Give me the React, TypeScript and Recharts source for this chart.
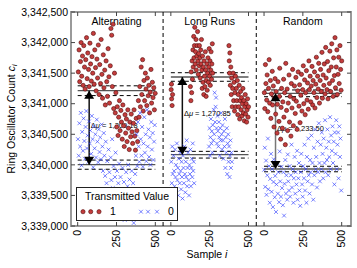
import React from "react";
import {
  ScatterChart,
  Scatter,
  XAxis,
  YAxis,
  ReferenceLine,
  ReferenceArea,
} from "recharts";

const FONT = '"Liberation Sans", Arial, Helvetica, sans-serif';

// plot box edges in pixels (used only for the mirrored tick marks)
const PLOT_TOP = 12;
const PLOT_RIGHT = 351;

const panelNames = ["Alternating", "Long Runs", "Random"];
const panelOffsets = [0, 600, 1200];
const panelDividers = [550, 1150];
const xTicks = [0, 250, 500, 600, 850, 1100, 1200, 1450, 1700];
const yTicks = [3339000, 3339500, 3340000, 3340500, 3341000, 3341500, 3342000, 3342500];

// mean counts per panel and their dashed confidence bands
const meanOne = [3341213, 3341437, 3341170];
const meanZero = [3340003, 3340166, 3339932];
const bandOne = [80, 70, 55];
const bandZero = [75, 55, 45];
const deltaLabels = ["1,209.18", "1,270.85", "1,233.50"];
const arrowSample = 74;

// [sample i, count c_i]
const altOne: [number, number][] = [
  [4, 3341520], [9, 3341880], [13, 3341360], [18, 3341690], [22, 3342000], [26, 3341450], [31, 3341780], [35, 3341300],
  [39, 3341950], [44, 3341600], [48, 3341240], [52, 3341720], [57, 3342080], [61, 3341410], [65, 3341830], [70, 3341560],
  [74, 3341280], [79, 3341990], [83, 3341650], [88, 3341370], [92, 3341770], [97, 3341500], [101, 3342150], [106, 3341320],
  [110, 3341880], [115, 3341590], [119, 3341210], [124, 3341730], [128, 3341420], [133, 3341960], [138, 3341150], [142, 3341640],
  [147, 3341330], [151, 3342050], [156, 3341480], [160, 3341090], [165, 3341800], [169, 3341260], [174, 3341550], [178, 3340980],
  [183, 3341700], [187, 3341360], [192, 3341120], [196, 3341900], [201, 3341440], [205, 3341010], [210, 3341620], [214, 3342230],
  [219, 3342120], [223, 3341280], [228, 3342300], [232, 3340920], [237, 3341500], [242, 3340850], [246, 3341180], [251, 3340620],
  [255, 3340950], [260, 3340480], [264, 3340780], [269, 3341050], [273, 3340560], [278, 3340890], [282, 3340700], [287, 3340420],
  [291, 3340980], [296, 3340640], [300, 3340300], [305, 3340820], [309, 3340520], [314, 3340750], [318, 3340380], [323, 3340900],
  [327, 3340600], [332, 3340250], [336, 3340700], [341, 3340460], [345, 3340830], [350, 3340540], [354, 3340350], [359, 3340680],
  [363, 3340900], [368, 3340470], [372, 3340240], [377, 3340760], [381, 3340560], [386, 3340380], [391, 3341050], [395, 3340780],
  [400, 3341280], [404, 3340950], [409, 3341600], [413, 3341150], [418, 3341720], [422, 3340880], [427, 3341380], [431, 3341050],
  [436, 3341500], [440, 3341240], [445, 3340970], [449, 3341420], [454, 3341130], [458, 3341300], [463, 3340850], [467, 3341190],
  [472, 3341560], [476, 3341010], [481, 3341350], [485, 3341100], [490, 3341260], [494, 3340900], [499, 3341170],
];

const altZero: [number, number][] = [
  [2, 3340420], [7, 3340150], [11, 3340680], [16, 3340300], [20, 3340850], [25, 3339990], [29, 3340540], [34, 3340230],
  [38, 3340760], [43, 3340390], [47, 3340100], [51, 3340620], [56, 3340880], [60, 3340270], [64, 3340480], [69, 3340050],
  [73, 3340710], [78, 3340350], [82, 3340560], [87, 3340180], [91, 3340800], [96, 3340420], [100, 3339960], [105, 3340630],
  [109, 3340270], [114, 3340500], [118, 3340120], [123, 3340740], [127, 3340380], [132, 3340040], [136, 3340580], [141, 3340210],
  [145, 3340450], [150, 3340090], [154, 3340660], [159, 3340300], [163, 3339900], [168, 3340520], [172, 3340150], [177, 3339820],
  [181, 3340380], [186, 3339700], [190, 3340060], [195, 3339560], [199, 3340250], [204, 3339880], [208, 3339450], [213, 3340120],
  [217, 3339750], [222, 3340420], [226, 3339620], [231, 3339980], [235, 3339330], [240, 3339800], [244, 3340200], [249, 3339500],
  [253, 3339900], [258, 3339250], [262, 3339700], [267, 3340020], [271, 3339420], [276, 3339800], [280, 3339150], [285, 3339600],
  [289, 3339950], [294, 3339350], [298, 3339720], [303, 3339100], [307, 3339560], [312, 3339880], [316, 3339280], [321, 3339650],
  [325, 3340000], [330, 3339430], [334, 3339760], [339, 3339200], [343, 3339580], [348, 3339900], [352, 3339350], [357, 3339700],
  [361, 3339050], [366, 3339500], [370, 3339850], [375, 3340150], [379, 3340500], [384, 3339980], [388, 3340700], [393, 3340300],
  [397, 3340050], [402, 3340850], [406, 3340420], [411, 3340150], [415, 3340620], [420, 3339970], [424, 3340350], [429, 3340780],
  [433, 3340200], [438, 3340500], [442, 3340060], [447, 3340900], [451, 3340300], [456, 3340580], [460, 3340130], [465, 3340450],
  [469, 3340000], [474, 3340700], [478, 3340250], [483, 3340520], [487, 3340080], [492, 3340380], [496, 3340650],
];

const runOne: [number, number][] = [
  [2, 3341230], [5, 3341080], [8, 3340970], [11, 3341150], [4, 3341320],
  [126, 3341280], [129, 3341050], [131, 3341520], [134, 3341180], [137, 3341700], [139, 3341400], [142, 3341880], [144, 3341600],
  [147, 3342100], [149, 3341750], [152, 3341950], [154, 3342250], [157, 3341650], [159, 3341850], [162, 3342050], [164, 3341550],
  [167, 3341780], [169, 3341950], [172, 3342180], [174, 3341700], [177, 3341480], [179, 3341820], [182, 3341620], [184, 3341950],
  [187, 3341750], [189, 3341420], [192, 3341880], [194, 3341650], [197, 3342050], [199, 3341550], [202, 3341250], [204, 3341780],
  [207, 3341350], [209, 3341600], [212, 3341150], [214, 3341700], [217, 3341450], [219, 3341280], [222, 3341850], [224, 3341550],
  [227, 3341120], [229, 3341380], [232, 3341650], [234, 3341220], [237, 3341500], [239, 3341750], [242, 3341350], [244, 3341600],
  [247, 3341900], [249, 3341450], [252, 3341700], [254, 3341300], [257, 3341550], [259, 3341850], [262, 3341400], [264, 3341650],
  [267, 3341980], [269, 3341500],
  [374, 3341950], [376, 3341700], [378, 3341500], [380, 3341830], [383, 3341300], [386, 3341600], [389, 3341150], [392, 3341420],
  [395, 3340950], [398, 3341250], [401, 3341500], [404, 3341050], [407, 3341350], [410, 3340880], [413, 3341180], [416, 3341450],
  [419, 3340950], [422, 3341250], [425, 3341050], [428, 3341380], [431, 3340820], [434, 3341150], [437, 3340950], [440, 3341300],
  [443, 3340750], [446, 3341050], [449, 3341200], [452, 3340900], [455, 3341100], [458, 3340800], [461, 3341000], [464, 3341250],
  [467, 3340850], [470, 3341050], [473, 3340720], [476, 3340950], [479, 3341150], [482, 3340830], [485, 3341000], [488, 3340700],
  [491, 3340900], [494, 3341080], [497, 3340780], [500, 3340950],
];

const runZero: [number, number][] = [
  [3, 3340050], [6, 3339700], [9, 3340300], [12, 3339850], [15, 3339550], [18, 3340150], [21, 3339900], [24, 3339650],
  [27, 3340250], [30, 3339800], [33, 3340000], [36, 3339600], [39, 3340350], [42, 3339750], [45, 3339950], [48, 3339500],
  [51, 3340100], [54, 3339850], [57, 3339700], [60, 3340200], [63, 3339900], [66, 3339600], [69, 3340050], [72, 3339800],
  [75, 3339450], [78, 3340150], [81, 3339950], [84, 3339700], [87, 3340300], [90, 3339850], [93, 3339550], [96, 3340050],
  [99, 3339800], [102, 3340400], [105, 3339650], [108, 3339950], [111, 3340200], [114, 3339750], [117, 3339500], [120, 3340000],
  [123, 3339850], [126, 3340250], [129, 3339650], [132, 3339950], [135, 3340100], [138, 3339800], [141, 3340350], [144, 3339900],
  [147, 3340050], [150, 3339700],
  [246, 3340300], [249, 3340600], [252, 3340150], [255, 3340450], [258, 3340750], [261, 3340350], [264, 3340550], [267, 3340200],
  [270, 3340650], [273, 3340400], [276, 3340900], [279, 3340500], [282, 3341180], [285, 3340700], [288, 3340950], [291, 3341100],
  [294, 3340600], [297, 3340350], [300, 3340800], [303, 3340550], [306, 3340300], [309, 3340700], [312, 3340450], [315, 3340150],
  [318, 3340600], [321, 3340400], [324, 3340850], [327, 3340500], [330, 3340250], [333, 3340650], [336, 3340400], [339, 3340100],
  [342, 3340550], [345, 3340300], [348, 3340750], [351, 3339950], [354, 3340450], [357, 3340200], [360, 3340600], [363, 3339850],
  [366, 3340350], [369, 3340500], [372, 3340050], [375, 3340300], [378, 3339800], [381, 3340150], [384, 3340400], [387, 3339950],
  [390, 3340200], [393, 3340050],
];

const randOne: [number, number][] = [
  [2, 3341180], [5, 3340920], [9, 3341640], [12, 3341330], [17, 3341060], [20, 3341470], [24, 3340870], [29, 3341250],
  [33, 3341720], [36, 3341010], [41, 3341380], [44, 3340760], [48, 3341160], [53, 3341530], [55, 3340980], [60, 3341290],
  [64, 3340620], [66, 3341090], [71, 3341410], [75, 3340830], [78, 3341200], [84, 3340520], [86, 3340990], [90, 3341360],
  [96, 3340710], [99, 3341120], [101, 3341580], [107, 3340420], [110, 3340940], [113, 3341250], [118, 3340600], [121, 3341030],
  [126, 3341400], [128, 3340780], [133, 3341180], [137, 3340330], [140, 3341660], [145, 3340890], [149, 3341240], [152, 3340560],
  [156, 3341010], [161, 3341470], [164, 3340700], [168, 3341120], [173, 3340470], [176, 3341330], [180, 3340930], [184, 3341560],
  [189, 3340640], [192, 3341080], [196, 3341290], [201, 3340840], [205, 3341430], [208, 3341040], [213, 3340580], [217, 3341210],
  [220, 3341520], [225, 3340960], [229, 3341310], [232, 3340690], [237, 3341140], [241, 3341480], [244, 3340880], [249, 3341230],
  [253, 3341620], [256, 3341000], [261, 3341390], [265, 3340820], [268, 3341180], [273, 3341540], [277, 3341060], [280, 3341340],
  [285, 3340910], [289, 3341700], [292, 3341230], [297, 3341450], [301, 3341030], [304, 3341290], [309, 3341610], [313, 3340980],
  [316, 3341380], [321, 3341180], [325, 3341520], [328, 3340930], [333, 3341320], [337, 3341760], [340, 3341100], [345, 3341450],
  [349, 3341240], [352, 3341660], [357, 3341010], [361, 3341380], [364, 3341560], [369, 3341200], [373, 3341840], [376, 3341090],
  [381, 3341470], [385, 3341300], [388, 3341650], [393, 3341160], [397, 3341920], [400, 3341420], [405, 3341230], [409, 3341690],
  [412, 3341080], [417, 3341540], [421, 3341330], [424, 3341860], [429, 3341200], [433, 3341600], [436, 3341980], [441, 3341380],
  [445, 3341120], [448, 3341750], [453, 3341460], [457, 3342080], [460, 3341260], [465, 3341600], [469, 3341880], [472, 3341150],
  [477, 3341480], [481, 3341760], [484, 3341330], [489, 3341950], [493, 3341560], [496, 3341220], [500, 3341700],
];

const randZero: [number, number][] = [
  [1, 3339920], [5, 3340280], [8, 3339640], [13, 3340070], [16, 3339510], [21, 3339830], [25, 3340430], [27, 3339600],
  [32, 3339980], [37, 3339380], [40, 3339770], [45, 3340180], [49, 3339560], [52, 3339930], [57, 3339310], [61, 3339720],
  [63, 3340090], [69, 3339470], [72, 3339820], [77, 3339230], [80, 3339680], [85, 3340020], [89, 3339530], [92, 3339880],
  [97, 3339390], [101, 3340220], [104, 3339730], [109, 3339480], [113, 3339970], [116, 3339620], [121, 3339340], [125, 3339880],
  [129, 3339170], [132, 3339690], [137, 3340080], [141, 3339530], [144, 3339830], [149, 3339430], [153, 3340170], [156, 3339730],
  [161, 3339580], [165, 3339980], [168, 3339480], [173, 3339830], [177, 3340330], [180, 3339630], [185, 3339930], [189, 3339380],
  [192, 3339780], [197, 3340130], [201, 3339530], [204, 3339880], [209, 3339680], [213, 3340230], [216, 3339430], [221, 3339780],
  [225, 3340030], [228, 3339580], [233, 3339330], [237, 3339880], [240, 3340180], [245, 3339680], [249, 3339480], [252, 3339980],
  [257, 3339780], [261, 3340330], [264, 3339580], [269, 3339930], [273, 3339380], [276, 3340130], [281, 3339730], [285, 3340430],
  [288, 3339830], [293, 3339530], [297, 3340080], [300, 3339880], [305, 3340480], [309, 3339680], [312, 3340030], [317, 3339430],
  [321, 3340280], [324, 3339830], [329, 3340580], [333, 3339930], [336, 3340130], [341, 3339630], [345, 3340380], [348, 3339880],
  [353, 3340680], [357, 3340030], [360, 3339730], [365, 3340330], [369, 3339930], [372, 3340530], [377, 3340180], [381, 3339780],
  [384, 3340430], [389, 3340030], [393, 3340730], [396, 3339880], [401, 3340280], [405, 3340080], [408, 3340580], [413, 3339830],
  [417, 3340380], [420, 3340130], [425, 3340780], [429, 3339930], [432, 3340480], [437, 3340230], [441, 3340630], [444, 3340030],
  [449, 3340380], [453, 3339680], [456, 3340530], [461, 3340180], [465, 3340730], [468, 3339930], [473, 3340330], [477, 3340530],
  [480, 3339780], [485, 3340630], [489, 3340130], [492, 3340430], [497, 3339580],
];

const onesByPanel = [altOne, runOne, randOne];
const zerosByPanel = [altZero, runZero, randZero];

const place = (pairs: [number, number][], k: number) =>
  pairs.map(([i, c]) => ({ x: i + panelOffsets[k], y: c }));

const onePoints = onesByPanel.flatMap((p, k) => place(p, k));
const zeroPoints = zerosByPanel.flatMap((p, k) => place(p, k));

const titleData = panelNames.map((name, k) => ({ x: panelOffsets[k] + 250, y: 3342340, label: name }));
const deltaData = deltaLabels.map((d, k) => ({
  x: panelOffsets[k] + arrowSample + 10,
  y: (meanOne[k] + meanZero[k]) / 2,
  label: d,
}));
const arrowTops = meanOne.map((m, k) => ({ x: panelOffsets[k] + arrowSample, y: m }));
const arrowBottoms = meanZero.map((m, k) => ({ x: panelOffsets[k] + arrowSample, y: m }));

const RED_FILL = "#c43d3d";
const RED_EDGE = "#500808";
const BLUE = "#2b3bff";

const RedDot = (p: any) => (
  <circle cx={p.cx} cy={p.cy} r={2.1} fill={RED_FILL} stroke={RED_EDGE} strokeWidth={0.6} />
);

const BlueX = (p: any) => {
  const s = 1.9;
  return (
    <path
      d={`M${p.cx - s},${p.cy - s}L${p.cx + s},${p.cy + s}M${p.cx - s},${p.cy + s}L${p.cx + s},${p.cy - s}`}
      stroke={BLUE}
      strokeWidth={0.8}
      strokeOpacity={0.8}
      fill="none"
    />
  );
};

const TriUp = (p: any) => (
  <path d={`M${p.cx},${p.cy}L${p.cx - 5},${p.cy + 8}L${p.cx + 5},${p.cy + 8}Z`} fill="#000" />
);
const TriDown = (p: any) => (
  <path d={`M${p.cx},${p.cy}L${p.cx - 5},${p.cy - 8}L${p.cx + 5},${p.cy - 8}Z`} fill="#000" />
);

const TitleText = (p: any) => (
  <text x={p.cx} y={p.cy} dy="0.35em" textAnchor="middle" fontSize={10.5} fontFamily={FONT} fill="#000">
    {p.payload.label}
  </text>
);

const DeltaText = (p: any) => (
  <text x={p.cx} y={p.cy} textAnchor="start" fontSize={7.5} fontFamily={FONT} fill="#000">
    Δ<tspan fontStyle="italic">μ</tspan> = {p.payload.label}
  </text>
);

const XTick = (p: any) => (
  <g>
    <line x1={p.x} x2={p.x} y1={p.y} y2={p.y - 4} stroke="#444" />
    <line x1={p.x} x2={p.x} y1={PLOT_TOP} y2={PLOT_TOP + 4} stroke="#444" />
    <text
      transform={`translate(${p.x},${p.y + 4}) rotate(-90)`}
      textAnchor="end"
      dy="0.35em"
      fontSize={10.5}
      fontFamily={FONT}
      fill="#000"
    >
      {p.payload.value % 600}
    </text>
  </g>
);

const YTick = (p: any) => (
  <g>
    <line x1={p.x} x2={p.x + 4} y1={p.y} y2={p.y} stroke="#444" />
    <line x1={PLOT_RIGHT - 4} x2={PLOT_RIGHT} y1={p.y} y2={p.y} stroke="#444" />
    <text x={p.x - 3} y={p.y} dy="0.35em" textAnchor="end" fontSize={10.5} fontFamily={FONT} fill="#000">
      {Number(p.payload.value).toLocaleString("en-US")}
    </text>
  </g>
);

const YLabel = () => (
  <text transform="translate(11,119) rotate(-90)" textAnchor="middle" dy="0.35em" fontSize={10.5} fontFamily={FONT} fill="#000">
    Ring Oscillator Count <tspan fontStyle="italic">c</tspan>
    <tspan fontStyle="italic" fontSize={7} dy={2}>i</tspan>
  </text>
);

const XLabel = () => (
  <text x={207} y={254} dy="0.35em" textAnchor="middle" fontSize={10.5} fontFamily={FONT} fill="#000">
    Sample <tspan fontStyle="italic">i</tspan>
  </text>
);

function LegendBox() {
  return (
    <div style={{ position: "absolute", left: 76, top: 187, width: 102, height: 34 }}>
      <svg width={102} height={34} style={{ display: "block" }}>
        <rect x={0.5} y={0.5} width={101} height={33} fill="#fff" stroke="#222" />
        <text x={51} y={9} dy="0.35em" textAnchor="middle" fontSize={10.5} fontFamily={FONT} fill="#000">
          Transmitted Value
        </text>
        {[7, 14.7, 23].map((cx) => (
          <RedDot key={"r" + cx} cx={cx} cy={24.7} />
        ))}
        <text x={37} y={24.7} dy="0.35em" textAnchor="middle" fontSize={10.5} fontFamily={FONT}>1</text>
        {[65, 72, 81].map((cx) => (
          <BlueX key={"b" + cx} cx={cx} cy={24.7} />
        ))}
        <text x={95} y={24.7} dy="0.35em" textAnchor="middle" fontSize={10.5} fontFamily={FONT}>0</text>
      </svg>
    </div>
  );
}

export default function App() {
  return (
    <div style={{ position: "absolute", left: 0, top: 0, width: 357, height: 268, background: "#fff" }}>
      <ScatterChart width={357} height={268} margin={{ top: 12, right: 6, bottom: 0, left: 0 }}>
        <XAxis
          type="number"
          dataKey="x"
          domain={[-43, 1760]}
          ticks={xTicks}
          interval={0}
          height={42}
          tickSize={0}
          tickMargin={0}
          axisLine={false}
          tick={XTick}
          allowDataOverflow
          label={XLabel}
        />
        <YAxis
          type="number"
          dataKey="y"
          domain={[3339000, 3342500]}
          ticks={yTicks}
          interval={0}
          width={71}
          tickSize={0}
          tickMargin={0}
          axisLine={false}
          tick={YTick}
          allowDataOverflow
          label={YLabel}
        />
        <ReferenceArea
          x1={-43}
          x2={1760}
          y1={3339000}
          y2={3342500}
          fill="none"
          stroke="#9a9a9a"
          strokeWidth={2}
          ifOverflow="visible"
        />
        {panelDividers.map((d) => (
          <ReferenceLine key={"div" + d} x={d} stroke="#000" strokeDasharray="4 3" />
        ))}
        <Scatter data={titleData} shape={TitleText} isAnimationActive={false} />
        <Scatter data={deltaData} shape={DeltaText} isAnimationActive={false} />
        <Scatter name="1" data={onePoints} shape={RedDot} isAnimationActive={false} />
        <Scatter name="0" data={zeroPoints} shape={BlueX} isAnimationActive={false} />
        {panelOffsets.map((off, k) => (
          <React.Fragment key={"m" + k}>
            <ReferenceLine segment={[{ x: off, y: meanOne[k] }, { x: off + 500, y: meanOne[k] }]} stroke="#555" strokeWidth={1.3} />
            <ReferenceLine segment={[{ x: off, y: meanOne[k] + bandOne[k] }, { x: off + 500, y: meanOne[k] + bandOne[k] }]} stroke="#000" strokeDasharray="4 3" />
            <ReferenceLine segment={[{ x: off, y: meanOne[k] - bandOne[k] }, { x: off + 500, y: meanOne[k] - bandOne[k] }]} stroke="#000" strokeDasharray="4 3" />
            <ReferenceLine segment={[{ x: off, y: meanZero[k] }, { x: off + 500, y: meanZero[k] }]} stroke="#555" strokeWidth={1.3} />
            <ReferenceLine segment={[{ x: off, y: meanZero[k] + bandZero[k] }, { x: off + 500, y: meanZero[k] + bandZero[k] }]} stroke="#000" strokeDasharray="4 3" />
            <ReferenceLine segment={[{ x: off, y: meanZero[k] - bandZero[k] }, { x: off + 500, y: meanZero[k] - bandZero[k] }]} stroke="#000" strokeDasharray="4 3" />
            <ReferenceLine
              segment={[{ x: off + arrowSample, y: meanZero[k] }, { x: off + arrowSample, y: meanOne[k] }]}
              stroke={k === 2 ? "#777" : "#111"}
              strokeWidth={1.5}
            />
          </React.Fragment>
        ))}
        <Scatter data={arrowTops} shape={TriUp} isAnimationActive={false} />
        <Scatter data={arrowBottoms} shape={TriDown} isAnimationActive={false} />
      </ScatterChart>
      <LegendBox />
    </div>
  );
}
